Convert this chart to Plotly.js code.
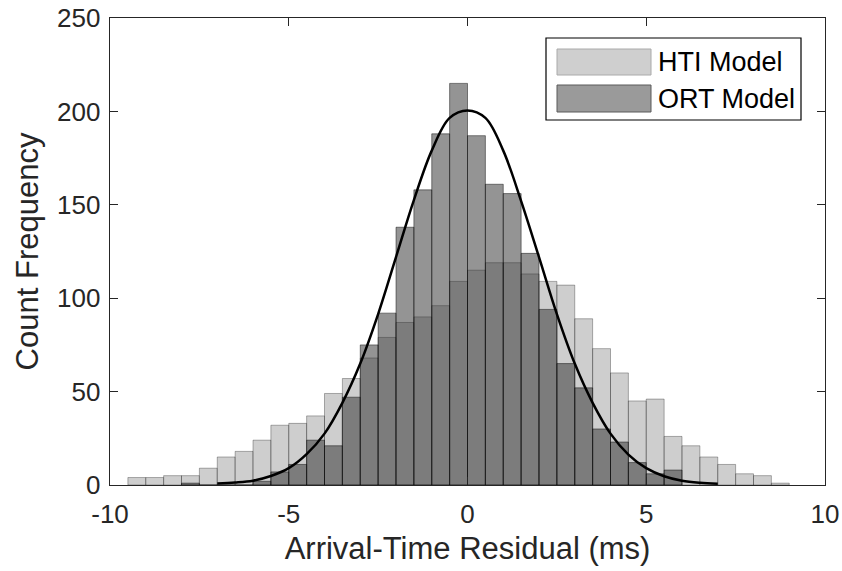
<!DOCTYPE html>
<html>
<head>
<meta charset="utf-8">
<script src="https://cdn.plot.ly/plotly-3.0.1.min.js"></script>
<style>
  html, body { margin: 0; padding: 0; background: #ffffff; }
  #chart { width: 842px; height: 571px; }
</style>
</head>
<body>
<div id="chart"></div>
<script>
// Histogram bin centres (bin width 0.5 ms)
const htiBinCenters = [-9.25, -8.75, -8.25, -7.75, -7.25, -6.75, -6.25, -5.75, -5.25, -4.75,
  -4.25, -3.75, -3.25, -2.75, -2.25, -1.75, -1.25, -0.75, -0.25, 0.25,
  0.75, 1.25, 1.75, 2.25, 2.75, 3.25, 3.75, 4.25, 4.75, 5.25,
  5.75, 6.25, 6.75, 7.25, 7.75, 8.25, 8.75];
const htiCounts = [4, 4, 5, 5, 9, 15, 18, 24, 32, 33,
  37, 49, 57, 68, 79, 87, 90, 96, 109, 115,
  119, 119, 113, 109, 107, 89, 73, 60, 45, 46,
  26, 21, 15, 11, 6, 5, 1];

const ortBinCenters = [-7.75, -7.25, -6.75, -6.25, -5.75, -5.25, -4.75, -4.25, -3.75, -3.25,
  -2.75, -2.25, -1.75, -1.25, -0.75, -0.25, 0.25, 0.75, 1.25, 1.75,
  2.25, 2.75, 3.25, 3.75, 4.25, 4.75, 5.25, 5.75];
const ortCounts = [1, 0, 0, 0, 2, 7, 11, 24, 21, 47,
  75, 92, 138, 158, 188, 215, 187, 161, 156, 124,
  94, 65, 52, 30, 23, 12, 6, 8];

// Fitted normal curve, sampled values
const fitX = [-7, -6.5, -6, -5.5, -5, -4.5, -4, -3.5, -3, -2.5, -2, -1.5, -1, -0.5, 0,
  0.5, 1, 1.5, 2, 2.5, 3, 3.5, 4, 4.5, 5, 5.5, 6, 6.5, 7];
const fitY = [0.8, 1.3, 2.3, 4.8, 9, 16.5, 27.5, 44, 65, 91.5, 122, 152.5, 179, 196.5, 200.5,
  196.5, 179, 152, 122, 91.5, 65, 44, 27.5, 16.3, 9, 4.7, 2.3, 1.2, 0.7];

const seriesNames = ['HTI Model', 'ORT Model'];
const xTicks = [-10, -5, 0, 5, 10];
const yTicks = [0, 50, 100, 150, 200, 250];

const FONT = '"Liberation Sans", Arial, Helvetica, sans-serif';
const INK = '#262626';

const traces = [
  {
    type: 'bar', name: seriesNames[0],
    x: htiBinCenters, y: htiCounts, width: 0.5,
    marker: { color: 'rgba(158,158,158,0.5)', line: { color: 'rgba(0,0,0,0.3)', width: 1 } },
    showlegend: false, hoverinfo: 'x+y'
  },
  {
    type: 'bar', name: seriesNames[1],
    x: ortBinCenters, y: ortCounts, width: 0.5,
    marker: { color: 'rgba(42,42,42,0.5)', line: { color: 'rgba(0,0,0,0.45)', width: 1 } },
    showlegend: false, hoverinfo: 'x+y'
  },
  {
    type: 'scatter', mode: 'lines', name: 'Normal fit',
    x: fitX, y: fitY,
    line: { color: '#000000', width: 2.5, shape: 'spline', smoothing: 1 },
    showlegend: false
  }
];

// Legend drawn in paper coordinates: frame, swatches, labels
const plotW = 842 - 110 - 17, plotH = 571 - 18 - 86;
const px = v => (v - 110) / plotW;
const py = v => 1 - (v - 18) / plotH;

const shapes = [
  { type: 'rect', xref: 'paper', yref: 'paper', x0: px(546), x1: px(801), y0: py(120), y1: py(38),
    line: { color: '#000000', width: 1.2 }, fillcolor: '#ffffff', layer: 'above' },
  { type: 'rect', xref: 'paper', yref: 'paper', x0: px(557), x1: px(651), y0: py(75), y1: py(49),
    line: { color: '#aaaaaa', width: 1 }, fillcolor: '#cfcfcf', layer: 'above' },
  { type: 'rect', xref: 'paper', yref: 'paper', x0: px(557), x1: px(651), y0: py(112), y1: py(85),
    line: { color: '#5a5a5a', width: 1 }, fillcolor: '#9a9a9a', layer: 'above' }
];

const annotations = [
  { xref: 'paper', yref: 'paper', x: px(656), y: py(62), xanchor: 'left', yanchor: 'middle',
    text: seriesNames[0], showarrow: false, font: { family: FONT, size: 27, color: '#000000' } },
  { xref: 'paper', yref: 'paper', x: px(656), y: py(99), xanchor: 'left', yanchor: 'middle',
    text: seriesNames[1], showarrow: false, font: { family: FONT, size: 27, color: '#000000' } }
];

const axisCommon = {
  showline: true, mirror: 'ticks', linecolor: INK, linewidth: 1.3,
  ticks: 'inside', ticklen: 8, tickwidth: 1.3, tickcolor: INK,
  showgrid: false, zeroline: false,
  tickfont: { family: FONT, size: 26, color: INK }
};

const layout = {
  width: 842, height: 571,
  margin: { l: 110, r: 17, t: 18, b: 86, pad: 0 },
  paper_bgcolor: '#ffffff', plot_bgcolor: '#ffffff',
  barmode: 'overlay', bargap: 0,
  xaxis: Object.assign({}, axisCommon, {
    range: [-10, 10], tickvals: xTicks, ticktext: xTicks.map(String),
    ticklabelstandoff: 5,
    title: { text: 'Arrival-Time Residual (ms)', font: { family: FONT, size: 31, color: INK }, standoff: 9 }
  }),
  yaxis: Object.assign({}, axisCommon, {
    range: [0, 250], tickvals: yTicks, ticktext: yTicks.map(String),
    ticklabelstandoff: 3,
    title: { text: 'Count Frequency', font: { family: FONT, size: 31, color: INK }, standoff: 9 }
  }),
  shapes: shapes,
  annotations: annotations,
  showlegend: false
};

Plotly.newPlot('chart', traces, layout, { displayModeBar: false, staticPlot: true });
</script>
</body>
</html>
